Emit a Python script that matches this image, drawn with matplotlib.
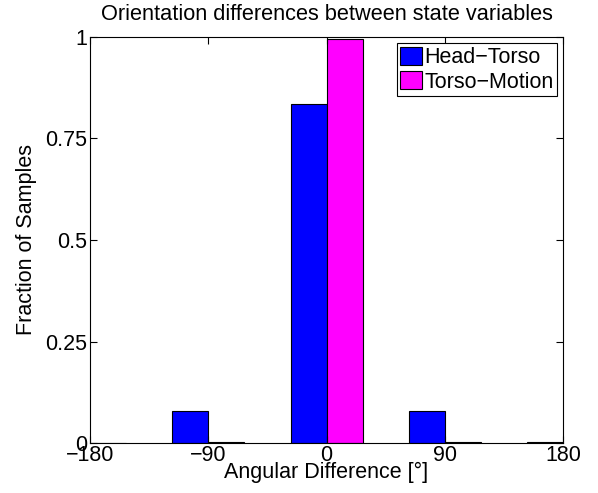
import numpy as np
import matplotlib.pyplot as plt

plt.rcParams['font.family'] = ['Liberation Sans', 'DejaVu Sans']

bins = [-180, -90, 0, 90, 180]
head_torso = [0.001, 0.079, 0.835, 0.079, 0.003]
torso_motion = [0.001, 0.002, 0.995, 0.002, 0.0]
labels = ['Head\u2212Torso', 'Torso\u2212Motion']
xticklabels = ['\u2212180', '\u221290', '0', '90', '180']
yticks = [0, 0.25, 0.5, 0.75, 1]
yticklabels = ['0', '0.25', '0.5', '0.75', '1']

fs = 15.5
fig = plt.figure(figsize=(5.98, 4.93), dpi=100)
ax = fig.add_axes([0.1505, 0.1014, 0.791, 0.8236])

x = np.array(bins)
w = 27.4
ax.bar(x - w / 2, head_torso, w, color='#0000ff', edgecolor='black', linewidth=0.8, label=labels[0])
ax.bar(x + w / 2, torso_motion, w, color='#ff00ff', edgecolor='black', linewidth=0.8, label=labels[1])

ax.set_xlim(-180, 180)
ax.set_ylim(0, 1)
ax.set_xticks(bins)
ax.set_xticklabels(xticklabels)
ax.set_yticks(yticks)
ax.set_yticklabels(yticklabels)
ax.tick_params(direction='in', top=True, right=True, labelsize=fs, length=5)
ax.tick_params(axis='x', pad=1.5)
ax.tick_params(axis='y', pad=2)
for s in ax.spines.values():
    s.set_linewidth(0.8)

ax.set_xlabel('Angular Difference [\u00b0]', fontsize=fs)
ax.xaxis.set_label_coords(0.5, -0.047)
ax.set_ylabel('Fraction of Samples', fontsize=fs)
ax.yaxis.set_label_coords(-0.113, 0.5)
ax.set_title('Orientation differences between state variables', fontsize=15.7, pad=12)

leg = ax.legend(loc='upper right', fontsize=fs, fancybox=False, framealpha=1,
                edgecolor='black', handlelength=1.0, handleheight=0.9,
                handletextpad=0.1, borderpad=0.15, labelspacing=0.15,
                borderaxespad=0.3)
leg.get_frame().set_linewidth(0.8)

fig.savefig('out.png', dpi=100)
